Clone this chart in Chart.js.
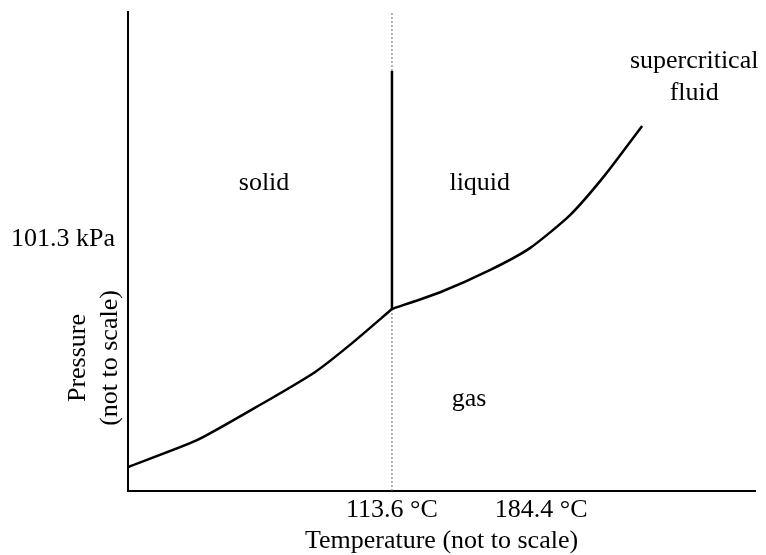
<!DOCTYPE html>
<html>
<head>
<meta charset="utf-8">
<script src="https://cdn.jsdelivr.net/npm/chart.js@4.4.1/dist/chart.umd.min.js"></script>
<style>
  html, body { margin: 0; padding: 0; background: #fff; }
  #wrap { width: 766px; height: 555px; }
</style>
</head>
<body>
<div id="wrap"><canvas id="chart"></canvas></div>
<script>
// schematic phase diagram, arbitrary units 0..100 on both axes
const sublimationT = [0, 11.0, 21.1, 29.8, 35.4, 42.1];
const sublimationP = [5.0, 10.6, 18.0, 24.8, 30.5, 38.0];
const boilingT = [42.1, 49.8, 57.7, 64.1, 70.5, 76.1, 82.0];
const boilingP = [38.0, 41.5, 46.1, 50.7, 57.6, 66.0, 76.2];
const meltingT = [42.1, 42.1];
const meltingP = [38.0, 87.7];
const tripleT = 42.1;

const xTickValues = [42.1, 65.9];
const xTickLabels = ['113.6 °C', '184.4 °C'];
const yTickValues = [52.6];
const yTickLabels = ['101.3 kPa'];

const regionNames = ['solid', 'liquid', 'gas', ['supercritical', 'fluid']];
const regionT = [21.7, 56.1, 54.4, 90.3];
const regionP = [62.8, 62.8, 17.7, 88.3];

const FONT = "'Liberation Serif', 'Times New Roman', serif";

const toPoints = (xs, ys) => xs.map((x, i) => ({ x: x, y: ys[i] }));

const regionLabels = {
    id: 'regionLabels',
    afterDatasetsDraw(chart) {
        const ctx = chart.ctx;
        const xs = chart.scales.x, ys = chart.scales.y;
        ctx.save();
        ctx.fillStyle = '#000';
        ctx.font = '26px ' + FONT;
        ctx.textAlign = 'center';
        ctx.textBaseline = 'alphabetic';
        regionNames.forEach((name, i) => {
            const px = xs.getPixelForValue(regionT[i]);
            const py = ys.getPixelForValue(regionP[i]);
            const lines = Array.isArray(name) ? name : [name];
            lines.forEach((ln, j) => ctx.fillText(ln, px, py + j * 32));
        });
        // y axis title, two rotated lines
        const area = chart.chartArea;
        ctx.translate(area.left - 43, area.top + 346);
        ctx.rotate(-Math.PI / 2);
        ctx.fillText('Pressure', 0, 0);
        ctx.fillText('(not to scale)', 0, 32);
        ctx.restore();
    }
};

// drop the extra room chart.js keeps for half a tick label
const noEdgePadding = (scale) => {
    scale.paddingTop = 0;
    scale.paddingBottom = 0;
    scale.paddingLeft = 0;
    scale.paddingRight = 0;
};

new Chart(document.getElementById('chart'), {
    type: 'scatter',
    data: {
        datasets: [
            {
                label: 'sublimation',
                data: toPoints(sublimationT, sublimationP),
                showLine: true,
                borderColor: '#000',
                borderWidth: 2.5,
                tension: 0.2,
                pointRadius: 0
            },
            {
                label: 'boiling',
                data: toPoints(boilingT, boilingP),
                showLine: true,
                borderColor: '#000',
                borderWidth: 2.5,
                tension: 0.2,
                pointRadius: 0
            },
            {
                label: 'melting',
                data: toPoints(meltingT, meltingP),
                showLine: true,
                borderColor: '#000',
                borderWidth: 2.5,
                pointRadius: 0
            },
            {
                label: 'triple point',
                data: [{ x: tripleT, y: 0 }, { x: tripleT, y: 100 }],
                showLine: true,
                borderColor: '#666',
                borderWidth: 1,
                borderDash: [2, 2],
                pointRadius: 0,
                order: 5
            }
        ]
    },
    options: {
        responsive: true,
        maintainAspectRatio: false,
        animation: false,
        layout: { padding: { top: 12, right: 11, left: 0, bottom: 0 } },
        plugins: {
            legend: { display: false },
            tooltip: { enabled: false }
        },
        scales: {
            x: {
                type: 'linear',
                min: 0,
                max: 100,
                grid: { display: false, drawTicks: false },
                border: { display: true, color: '#000', width: 2 },
                afterBuildTicks: (scale) => { scale.ticks = xTickValues.map(v => ({ value: v })); },
                afterFit: (scale) => { scale.height = 64; noEdgePadding(scale); },
                ticks: {
                    padding: 4,
                    color: '#000',
                    font: { family: FONT, size: 26 },
                    maxRotation: 0,
                    autoSkip: false,
                    callback: (v) => xTickLabels[xTickValues.indexOf(v)]
                },
                title: {
                    display: true,
                    text: 'Temperature (not to scale)',
                    color: '#000',
                    font: { family: FONT, size: 26, lineHeight: 1 },
                    padding: { top: 0, bottom: 1 }
                }
            },
            y: {
                type: 'linear',
                min: 0,
                max: 100,
                grid: { display: false, drawTicks: false },
                border: { display: true, color: '#000', width: 2 },
                afterBuildTicks: (scale) => { scale.ticks = yTickValues.map(v => ({ value: v })); },
                afterFit: (scale) => { scale.width = 128; noEdgePadding(scale); },
                ticks: {
                    padding: 13,
                    color: '#000',
                    font: { family: FONT, size: 26 },
                    autoSkip: false,
                    callback: (v) => yTickLabels[yTickValues.indexOf(v)]
                }
            }
        }
    },
    plugins: [regionLabels]
});
</script>
</body>
</html>
